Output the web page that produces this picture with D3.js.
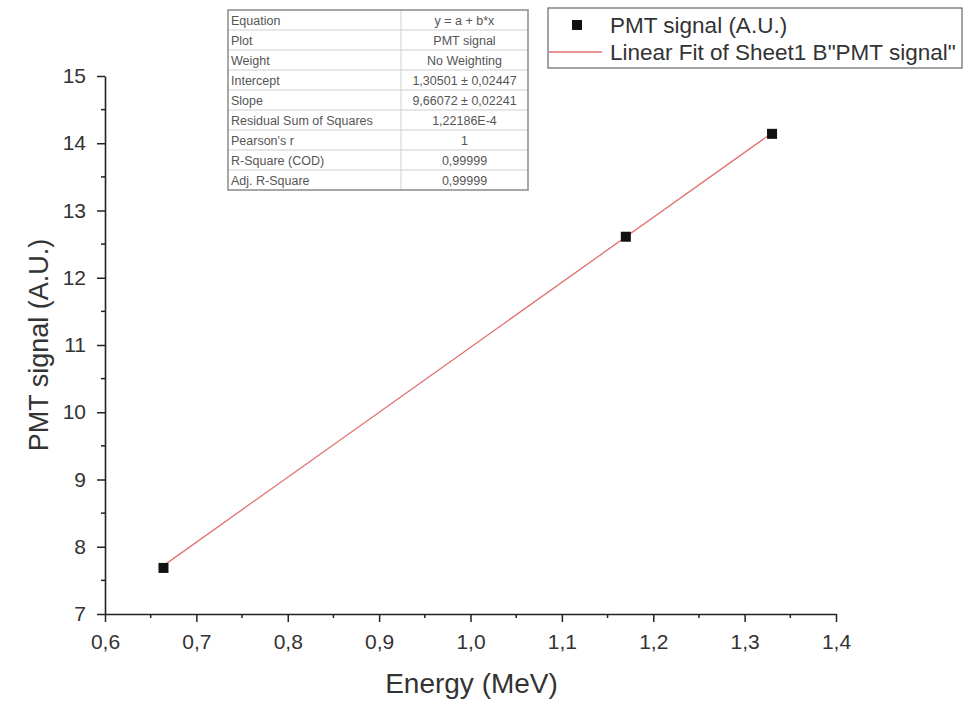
<!DOCTYPE html>
<html>
<head>
<meta charset="utf-8">
<script src="https://cdn.jsdelivr.net/npm/d3@7"></script>
<style>
html,body{margin:0;padding:0;background:#fff;}
svg{display:block;font-family:"Liberation Sans",Arial,sans-serif;}
</style>
</head>
<body>
<svg id="chart" width="971" height="702"></svg>
<script>
// ---- data ----
const energy = [0.664, 1.170, 1.330];
const pmtSignal = [7.685, 12.61, 14.14];
const fitIntercept = 1.30501;
const fitSlope = 9.66072;
const xTicks = [0.6, 0.7, 0.8, 0.9, 1.0, 1.1, 1.2, 1.3, 1.4];
const yTicks = [7, 8, 9, 10, 11, 12, 13, 14, 15];
const tableLabels = ["Equation", "Plot", "Weight", "Intercept", "Slope", "Residual Sum of Squares", "Pearson's r", "R-Square (COD)", "Adj. R-Square"];
const tableValues = ["y = a + b*x", "PMT signal", "No Weighting", "1,30501 ± 0,02447", "9,66072 ± 0,02241", "1,22186E-4", "1", "0,99999", "0,99999"];
const legendLabels = ["PMT signal (A.U.)", "Linear Fit of Sheet1 B\"PMT signal\""];

const svg = d3.select("#chart");
const margin = {left: 105, right: 135, top: 76, bottom: 88};
const W = 971, H = 702;
const x = d3.scaleLinear().domain([0.6, 1.4]).range([margin.left, W - margin.right]);
const y = d3.scaleLinear().domain([7, 15]).range([H - margin.bottom, margin.top]);
const fmt = d => d3.format(".1f")(d).replace(".", ",");

// minor ticks
const xMinor = d3.range(0.65, 1.4, 0.1);
const yMinor = d3.range(7.5, 15, 1);

// x axis
const gx = svg.append("g").attr("transform", `translate(0,${y(7)})`);
gx.call(d3.axisBottom(x).tickValues(xTicks).tickFormat(fmt).tickSize(8).tickSizeOuter(0).tickPadding(12));
gx.append("g").selectAll("line").data(xMinor).join("line")
  .attr("x1", d => x(d)).attr("x2", d => x(d)).attr("y1", 0).attr("y2", 4)
  .attr("stroke", "#222").attr("stroke-width", 1.5);
// y axis
const gy = svg.append("g").attr("transform", `translate(${x(0.6)},0)`);
gy.call(d3.axisLeft(y).tickValues(yTicks).tickFormat(d3.format("d")).tickSize(8).tickSizeOuter(0).tickPadding(11));
gy.append("g").selectAll("line").data(yMinor).join("line")
  .attr("y1", d => y(d)).attr("y2", d => y(d)).attr("x1", 0).attr("x2", -4)
  .attr("stroke", "#222").attr("stroke-width", 1.5);

[gx, gy].forEach(g => {
  g.selectAll(".domain").attr("stroke", "#222").attr("stroke-width", 1.6);
  g.selectAll(".tick line").attr("stroke", "#222").attr("stroke-width", 1.5);
  g.selectAll(".tick text").attr("fill", "#333").style("font-size", "21px").style("font-family", "'Liberation Sans',Arial,sans-serif");
});

// axis titles
svg.append("text").attr("x", (x(0.6) + x(1.4)) / 2 + 1).attr("y", 693)
  .attr("text-anchor", "middle").attr("fill", "#333").style("font-size", "28px")
  .text("Energy (MeV)");
svg.append("text").attr("transform", `translate(48,${(y(7) + y(15)) / 2}) rotate(-90)`)
  .attr("text-anchor", "middle").attr("fill", "#333").style("font-size", "27px")
  .text("PMT signal (A.U.)");

// fit line
const xFit = d3.extent(energy);
svg.append("line")
  .attr("x1", x(xFit[0])).attr("y1", y(fitIntercept + fitSlope * xFit[0]))
  .attr("x2", x(xFit[1])).attr("y2", y(fitIntercept + fitSlope * xFit[1]))
  .attr("stroke", "#e07070").attr("stroke-width", 1.3);

// points
const ms = 10;
svg.append("g").selectAll("rect").data(energy).join("rect")
  .attr("x", (d) => x(d) - ms / 2).attr("y", (d, i) => y(pmtSignal[i]) - ms / 2)
  .attr("width", ms).attr("height", ms).attr("fill", "#111");

// table
const tX = 228, tY = 10, tW = 300, rowH = 20, colSplit = 173;
const tg = svg.append("g").attr("transform", `translate(${tX},${tY})`);
tg.append("rect").attr("width", tW).attr("height", rowH * tableLabels.length)
  .attr("fill", "#fff").attr("stroke", "none");
tg.selectAll("line.row").data(d3.range(1, tableLabels.length)).join("line")
  .attr("x1", 0).attr("x2", tW).attr("y1", d => d * rowH).attr("y2", d => d * rowH)
  .attr("stroke", "#cfcfcf").attr("stroke-width", 1);
tg.append("line").attr("x1", colSplit).attr("x2", colSplit).attr("y1", 0).attr("y2", rowH * tableLabels.length)
  .attr("stroke", "#cfcfcf").attr("stroke-width", 1);
tg.append("rect").attr("width", tW).attr("height", rowH * tableLabels.length)
  .attr("fill", "none").attr("stroke", "#8a8a8a").attr("stroke-width", 1.5);
tg.selectAll("text.lab").data(tableLabels).join("text")
  .attr("x", 3).attr("y", (d, i) => i * rowH + 14.5)
  .attr("fill", "#555").style("font-size", "12.5px").text(d => d);
tg.selectAll("text.val").data(tableValues).join("text")
  .attr("x", (colSplit + tW) / 2).attr("y", (d, i) => i * rowH + 14.5)
  .attr("text-anchor", "middle").attr("fill", "#555").style("font-size", "12.5px").text(d => d);

// legend
const lg = svg.append("g");
lg.append("rect").attr("x", 548).attr("y", 8).attr("width", 414).attr("height", 60)
  .attr("fill", "#fff").attr("stroke", "#666").attr("stroke-width", 1.2);
lg.append("rect").attr("x", 577 - ms / 2).attr("y", 25 - ms / 2).attr("width", ms).attr("height", ms).attr("fill", "#111");
lg.append("line").attr("x1", 549).attr("x2", 602).attr("y1", 52).attr("y2", 52)
  .attr("stroke", "#e07070").attr("stroke-width", 1.3);
lg.selectAll("text").data(legendLabels).join("text")
  .attr("x", 610).attr("y", (d, i) => 33 + i * 27)
  .attr("fill", "#333").style("font-size", "22.5px").text(d => d);
</script>
</body>
</html>
